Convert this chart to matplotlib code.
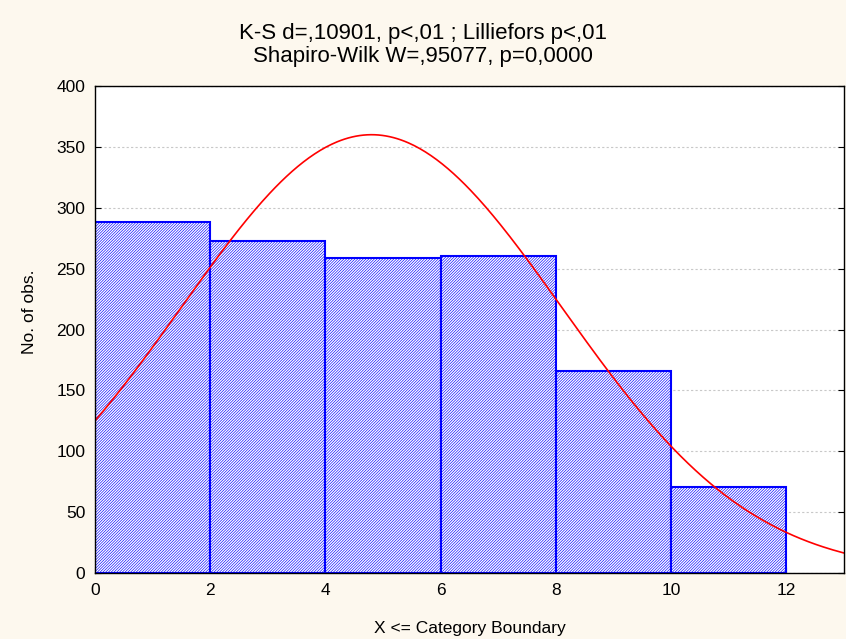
import numpy as np
import matplotlib.pyplot as plt

# category boundaries and counts
bin_left = [0, 2, 4, 6, 8, 10]
bin_width = 2
counts = [288, 273, 259, 260, 166, 71]

# fitted normal curve parameters (expected counts per bin)
fit_mean = 4.8
fit_sd = 3.3
fit_peak = 360

title = "K-S d=,10901, p<,01 ; Lilliefors p<,01\nShapiro-Wilk W=,95077, p=0,0000"

plt.rcParams["font.family"] = ["Liberation Sans", "DejaVu Sans"]
plt.rcParams["hatch.linewidth"] = 0.45

fig = plt.figure(figsize=(8.46, 6.39), dpi=100, facecolor="#fdf8ee")
ax = fig.add_axes([0.1123, 0.1033, 0.8853, 0.7621])
ax.set_facecolor("white")

ax.bar(bin_left, counts, width=bin_width, align="edge", color="white",
       edgecolor="#0000ff", hatch="////////////", linewidth=1.5, zorder=2)

xs = np.linspace(0, 13, 400)
ys = fit_peak * np.exp(-0.5 * ((xs - fit_mean) / fit_sd) ** 2)
ax.plot(xs, ys, color="#ff0000", linewidth=1.2, zorder=3)

ax.set_xlim(0, 13)
ax.set_ylim(0, 400)
ax.set_xticks(range(0, 13, 2))
ax.set_yticks(range(0, 401, 50))
ax.yaxis.grid(True, color="#c8c8c8", linestyle=(0, (2, 2)), linewidth=0.8, zorder=0)
ax.set_axisbelow(True)
ax.tick_params(direction="in", right=True, labelsize=12.5, length=4, pad=7)

for sp in ax.spines.values():
    sp.set_color("black")
    sp.set_linewidth(1.0)
    sp.set_zorder(4)

ax.set_xlabel("X <= Category Boundary", fontsize=12.5, va="center")
ax.xaxis.set_label_coords(0.5, -0.113)
ax.set_ylabel("No. of obs.", fontsize=12.5, va="center")
ax.yaxis.set_label_coords(-0.087, 0.536)
fig.text(0.5, 1 - 45 / 639, title, fontsize=16, ha="center", va="center",
         linespacing=1.1)

fig.savefig("out.png", dpi=100, facecolor=fig.get_facecolor())
